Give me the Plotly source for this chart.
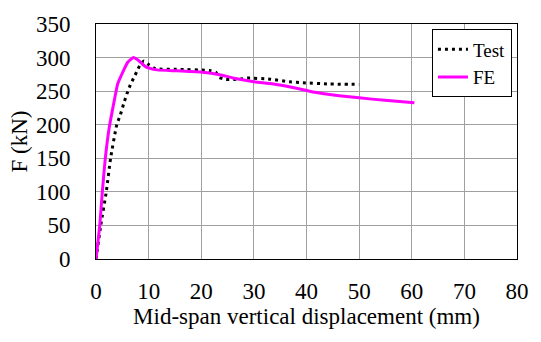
import plotly.graph_objects as go

test_x = [0, 0.9, 1.95, 2.77, 3.95, 4.64, 5.25, 5.88, 6.5, 7.12, 7.75, 8.37, 9.1, 10.1, 11.3, 15.3, 21.6, 22.8, 23.3, 24.7, 27.8, 28.7, 33.1, 36.8, 39.3, 44.3, 50.0]
test_y = [0, 50, 100, 150, 200, 215, 231, 246, 259, 269, 279, 289, 295, 289, 283.5, 282.5, 280.7, 277.8, 271, 267.3, 268.3, 269.5, 267.8, 264, 262.5, 260.7, 260]

fe_x = [0, 0.71, 1.2, 1.77, 2.5, 3.5, 4.13, 5.07, 6.0, 7.12, 8.2, 9.4, 11.6, 15.35, 20.3, 23.5, 26.0, 29.7, 33.7, 38.1, 41.2, 46.2, 50.0, 54.9, 60.5]
fe_y = [0, 50, 100, 150, 195, 237, 261, 278, 292.7, 300, 295, 286.5, 281.7, 280.3, 278.3, 274.5, 269.7, 264.5, 260.7, 254.4, 248.7, 243.3, 240, 236.3, 232.7]

x_ticks = [0, 10, 20, 30, 40, 50, 60, 70, 80]
y_ticks = [0, 50, 100, 150, 200, 250, 300, 350]

FONT = "Liberation Serif"
F = dict(family=FONT, size=23, color="black")

fig = go.Figure()
fig.add_trace(go.Scatter(x=test_x, y=test_y, mode="lines", name="Test",
                         line=dict(color="black", width=3, dash="3px,4px", shape="spline", smoothing=0.5)))
fig.add_trace(go.Scatter(x=fe_x, y=fe_y, mode="lines", name="FE",
                         line=dict(color="#FF00FF", width=3, shape="spline", smoothing=0.5)))

fig.update_layout(
    width=541, height=342,
    margin=dict(l=96, r=17, t=15, b=83),
    paper_bgcolor="white", plot_bgcolor="white",
    font=F,
    showlegend=True,
    legend=dict(x=0.988, y=0.977, xanchor="right", yanchor="top",
                bordercolor="black", borderwidth=1, bgcolor="white",
                font=dict(family=FONT, size=19, color="black"),
                tracegroupgap=0, itemwidth=30),
    xaxis=dict(range=[0, 80], tickvals=x_ticks, showgrid=True, gridcolor="#A0A0A0", gridwidth=1,
               showline=True, linecolor="black", linewidth=1, mirror=True, zeroline=False,
               ticks="", ticklen=0, ticklabelstandoff=11, tickfont=F,
               title=dict(text="Mid-span vertical displacement (mm)", font=F, standoff=4)),
    yaxis=dict(range=[0, 350], tickvals=y_ticks, showgrid=True, gridcolor="#A0A0A0", gridwidth=1,
               showline=True, linecolor="black", linewidth=1, mirror=True, zeroline=False,
               ticks="", ticklen=0, ticklabelstandoff=20, tickfont=F,
               title=dict(text="F (kN)", font=F, standoff=1)),
)

fig.write_html("out.html")
